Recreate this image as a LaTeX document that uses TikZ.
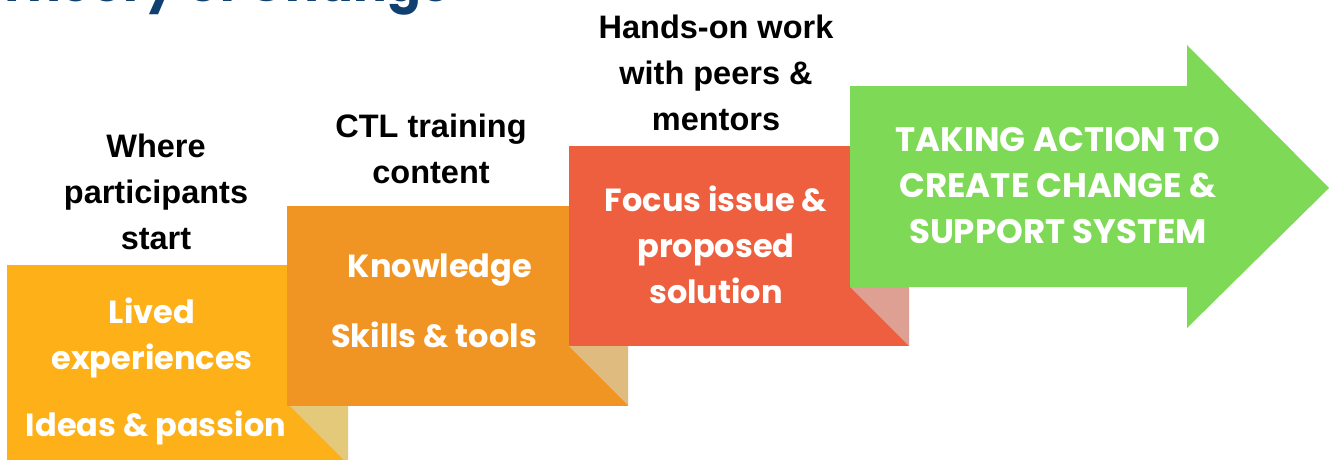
\documentclass[tikz,border=0pt]{standalone}
\usepackage{fontspec}
\setmainfont{Liberation Sans}
\newfontfamily\wfont{Poppins}
\newfontfamily\lfont{Liberation Sans}
\newfontfamily\tfont{Poppins}
\definecolor{cyellow}{HTML}{FDB017}
\definecolor{corange}{HTML}{F09523}
\definecolor{cred}{HTML}{EE5F3F}
\definecolor{cgreen}{HTML}{7ED957}
\definecolor{fyellow}{HTML}{E5C97B}
\definecolor{forange}{HTML}{E0BB80}
\definecolor{fred}{HTML}{DEA092}
\definecolor{ctitle}{HTML}{0F4070}
\tikzset{
  lbl/.style={align=center, anchor=base, text=black, inner sep=0pt,
    font=\lfont\bfseries\fontsize{32.5}{46}\selectfont},
  wtxt/.style={align=center, anchor=base, text=white, inner sep=0pt,
    font=\wfont\bfseries\fontsize{32}{46}\selectfont},
}
\begin{document}
\begin{tikzpicture}[x=1pt,y=-1pt]
\useasboundingbox (0,0) rectangle (1336,459);
\clip (0,0) rectangle (1336,459);
\fill[white] (0,0) rectangle (1336,459);
% title (cut off)
\node[anchor=base east, inner sep=0pt, text=ctitle, font=\tfont\bfseries\fontsize{50}{60}\selectfont] (title) at (452,1) {Theory of Change};
% box 1
\fill[cyellow] (7,265) rectangle (348,470);
\fill[fyellow] (289,405) -- (348,405) -- (348,464) -- cycle;
% box 2
\fill[corange] (287,206) rectangle (628,406);
\fill[forange] (569,346) -- (628,346) -- (628,405) -- cycle;
% box 3
\fill[cred] (569,146) rectangle (909,346);
\fill[fred] (850,287) -- (909,287) -- (909,346) -- cycle;
% arrow
\fill[cgreen] (850,86) -- (1187,86) -- (1187,45) -- (1329,188) -- (1187,328) -- (1187,287) -- (850,287) -- cycle;
% labels (anchor = baseline of last line)
\node[lbl] (l1) at (156,249) {Where\\participants\\start};
\node[lbl] (l2) at (431,183) {CTL training\\content};
\node[lbl] (l3) at (716,130) {Hands-on work\\with peers \&\\mentors};
% white texts
\node[wtxt] (w1) at (152,369) {Lived\\experiences};
\node[wtxt] (w1b) at (156,436) {Ideas \& passion};
\node[wtxt] (w2) at (440,277) {Knowledge};
\node[wtxt] (w2b) at (434,347) {Skills \& tools};
\node[wtxt] (w3) at (716,303) {Focus issue \&\\proposed\\solution};
\node[wtxt, font=\wfont\bfseries\fontsize{34}{46}\selectfont] (w4) at (1058,243) {TAKING ACTION TO\\CREATE CHANGE \&\\SUPPORT SYSTEM};
\end{tikzpicture}
\end{document}
